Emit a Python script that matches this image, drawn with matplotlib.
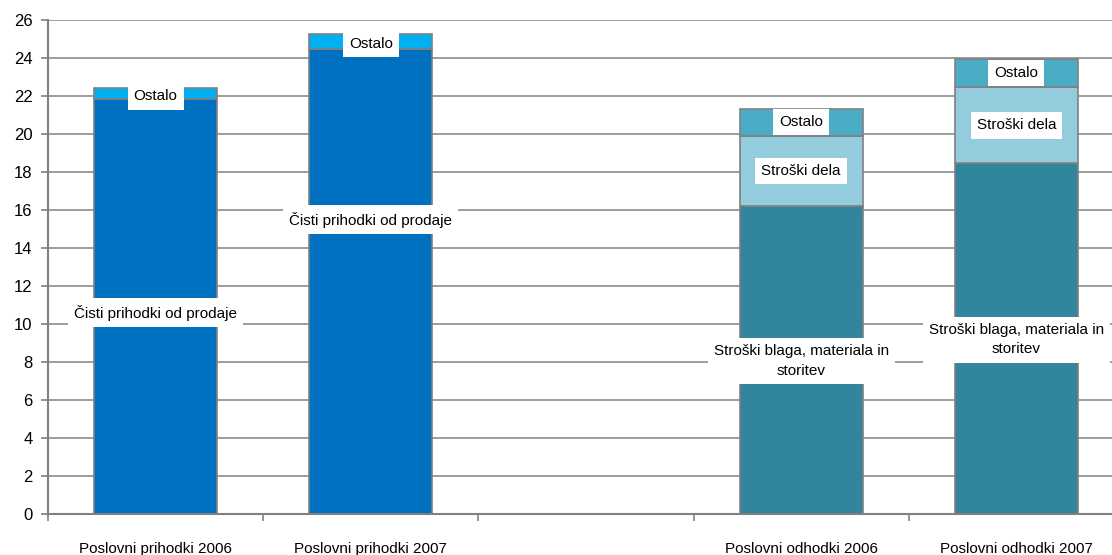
import numpy as np
import matplotlib.pyplot as plt
import matplotlib.font_manager as fm

# data (mio EUR)
categories = ['Poslovni prihodki 2006', 'Poslovni prihodki 2007', '',
              'Poslovni odhodki 2006', 'Poslovni odhodki 2007']
prih_idx = [0, 1]
odh_idx = [3, 4]
cisti_prihodki = [21.85, 24.5]
ostalo_prih = [0.55, 0.75]
stroski_blaga = [16.2, 18.45]
stroski_dela = [3.7, 4.0]
ostalo_odh = [1.43, 1.5]

names = [f.name for f in fm.fontManager.ttflist]
font = 'Liberation Sans Narrow' if 'Liberation Sans Narrow' in names else 'Liberation Sans'
plt.rcParams['font.family'] = [font, 'DejaVu Sans']

fig = plt.figure(figsize=(11.12, 5.55), dpi=100)
ax = fig.add_axes([48 / 1112, 41 / 555, 1076 / 1112, 494 / 555])

w = 0.57
edge = '#808080'
box = dict(boxstyle='square,pad=0.4', fc='white', ec='none')
fs = 11

# prihodki
ax.bar(prih_idx, cisti_prihodki, w, color='#0070C0', edgecolor=edge, lw=1.2, zorder=2)
ax.bar(prih_idx, ostalo_prih, w, bottom=cisti_prihodki, color='#00B0F0', edgecolor=edge, lw=1.2, zorder=2)

# odhodki
b2 = np.array(stroski_blaga) + np.array(stroski_dela)
ax.bar(odh_idx, stroski_blaga, w, color='#31859C', edgecolor=edge, lw=1.2, zorder=2)
ax.bar(odh_idx, stroski_dela, w, bottom=stroski_blaga, color='#93CDDD', edgecolor=edge, lw=1.2, zorder=2)
ax.bar(odh_idx, ostalo_odh, w, bottom=b2, color='#4BACC6', edgecolor=edge, lw=1.2, zorder=2)

# data labels
cisti_label_y = [10.6, 15.5]
for i, x in enumerate(prih_idx):
    ax.text(x, cisti_label_y[i], 'Čisti prihodki od prodaje', ha='center', va='center',
            fontsize=fs, bbox=box, zorder=3)
    ax.text(x, cisti_prihodki[i] + ostalo_prih[i] / 2 - 0.15, 'Ostalo', ha='center', va='center',
            fontsize=fs, bbox=box, zorder=3)
for i, x in enumerate(odh_idx):
    ax.text(x, stroski_blaga[i] / 2 - 0.05, 'Stroški blaga, materiala in\nstoritev', ha='center',
            va='center', fontsize=fs, bbox=box, zorder=3, linespacing=1.5)
    ax.text(x, stroski_blaga[i] + stroski_dela[i] / 2, 'Stroški dela', ha='center', va='center',
            fontsize=fs, bbox=box, zorder=3)
    ax.text(x, b2[i] + ostalo_odh[i] / 2, 'Ostalo', ha='center', va='center',
            fontsize=fs, bbox=box, zorder=3)

ax.set_xlim(-0.5, 4.5)
ax.set_ylim(0, 26)
ax.set_yticks(np.arange(0, 27, 2))
ax.set_xticks(range(5))
ax.set_xticklabels(categories, fontsize=fs)
ax.set_xticks(np.arange(-0.5, 5, 1), minor=True)
ax.tick_params(axis='x', which='major', length=0, pad=20)
ax.tick_params(axis='x', which='minor', length=5, color=edge, width=1.2)
ax.tick_params(axis='y', length=5, color=edge, width=1.2, labelsize=12, pad=6)
ax.yaxis.grid(True, color='#8c8c8c', lw=1.2, zorder=0)
ax.set_axisbelow(True)
for s in ['top', 'right']:
    ax.spines[s].set_visible(False)
for s in ['left', 'bottom']:
    ax.spines[s].set_color(edge)
    ax.spines[s].set_linewidth(1.5)

fig.savefig('out.png', dpi=100)
